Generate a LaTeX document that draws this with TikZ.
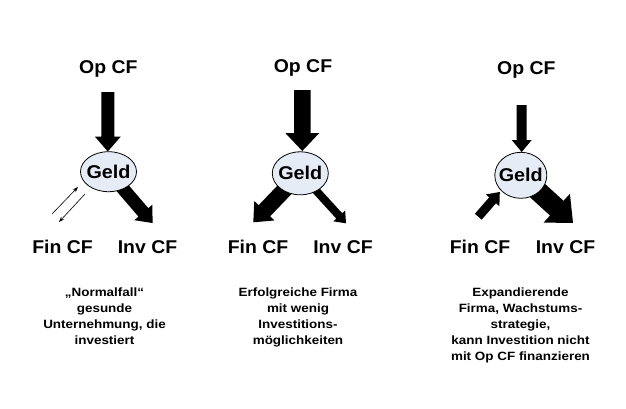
\documentclass[tikz,border=0pt]{standalone}
\usepackage{fontspec}
\setmainfont{Liberation Sans}
\usetikzlibrary{calc,shapes.geometric,backgrounds,arrows.meta}
\definecolor{geldfill}{HTML}{E6ECF6}
% #1 tail, #2 tip, #3 shaft half-width, #4 head half-width, #5 head length
\newcommand\blockarrow[5]{%
  \path ($(#2)!#5!(#1)$) coordinate (bh);
  \fill[black] ($(#1)!#3!90:(#2)$) -- ($(bh)!#3!-90:(#1)$) -- ($(bh)!#4!-90:(#1)$)
    -- (#2) -- ($(bh)!#4!90:(#1)$) -- ($(bh)!#3!90:(#1)$) -- ($(#1)!#3!-90:(#2)$) -- cycle;
}
\newcommand\geldtext{\scalebox{1.07}[1]{Geld}}
\begin{document}
\begin{tikzpicture}[x=1pt,y=-1pt,
  lbl/.style={font=\fontsize{18.5}{20}\selectfont\bfseries, inner sep=0pt, anchor=base, xscale=1.05},
  geld/.style={ellipse, draw=black, line width=0.8pt, fill=geldfill, inner xsep=-4pt, inner ysep=0pt,
    font=\fontsize{18.5}{20}\selectfont\bfseries},
  desc/.style={font=\fontsize{12}{16.2}\selectfont\bfseries, align=center, inner sep=0pt, xscale=1.12},
  thinarr/.style={-{Stealth[length=5.5pt,width=4pt]}, line width=0.6pt}]
\useasboundingbox (0,0) rectangle (626,408);

% ---------- Panel 1 ----------
\node[lbl] (op1) at (108.3,73.3) {Op CF};
\node[lbl] (fin1) at (62.5,253.3) {Fin CF};
\node[lbl] (inv1) at (147.5,253.3) {Inv CF};
\node[geld, minimum width=56pt, minimum height=40pt] (g1) at (108.5,171.7) {\geldtext};
\coordinate (op1t) at (107.8,92);
\coordinate (op1h) at (107.8,151.5);
\coordinate (inv1h) at (152.5,223);
\coordinate (ta1) at (52,214);
\coordinate (ta2) at (78,187);
\coordinate (tb1) at (85,194);
\coordinate (tb2) at (59,222);
\begin{pgfonlayer}{background}
  \blockarrow{op1t}{op1h}{6.5pt}{13pt}{15pt}
  \blockarrow{g1.center}{inv1h}{6.5pt}{12pt}{14pt}
\end{pgfonlayer}
\draw[thinarr] (ta1) -- (ta2);
\draw[thinarr] (tb1) -- (tb2);
\node[desc] (d1) at (104.5,316.3) {„Normalfall“\\gesunde\\Unternehmung, die\\investiert};

% ---------- Panel 2 ----------
\node[lbl] (op2) at (303,72.7) {Op CF};
\node[lbl] (fin2) at (258,253.3) {Fin CF};
\node[lbl] (inv2) at (343,253.3) {Inv CF};
\node[geld, minimum width=56pt, minimum height=43pt] (g2) at (300.3,173.3) {\geldtext};
\coordinate (op2t) at (302.3,90);
\coordinate (op2h) at (302.3,151);
\coordinate (fin2h) at (253.3,222.3);
\coordinate (inv2h) at (346,223.3);
\begin{pgfonlayer}{background}
  \blockarrow{op2t}{op2h}{8.3pt}{17pt}{18pt}
  \blockarrow{g2.center}{fin2h}{8pt}{14pt}{16pt}
  \blockarrow{g2.center}{inv2h}{4pt}{8pt}{10pt}
\end{pgfonlayer}
\node[desc] (d2) at (298,317.5) {Erfolgreiche Firma\\mit wenig\\Investitions-\\möglichkeiten};

% ---------- Panel 3 ----------
\node[lbl] (op3) at (526.3,74.3) {Op CF};
\node[lbl] (fin3) at (480,253.3) {Fin CF};
\node[lbl] (inv3) at (565.5,253.3) {Inv CF};
\node[geld, minimum width=52pt, minimum height=46pt] (g3) at (520.8,175.3) {\geldtext};
\coordinate (op3t) at (521.7,105);
\coordinate (op3h) at (521.7,152);
\coordinate (fin3t) at (478.3,216.7);
\coordinate (fin3h) at (499.8,192);
\coordinate (inv3h) at (573,223);
\begin{pgfonlayer}{background}
  \blockarrow{op3t}{op3h}{5pt}{10pt}{12pt}
  \blockarrow{g3.center}{inv3h}{10pt}{19.5pt}{22pt}
\end{pgfonlayer}
\blockarrow{fin3t}{fin3h}{4.5pt}{9pt}{11pt}
\node[desc] (d3) at (520.5,325.3) {Expandierende\\Firma, Wachstums-\\strategie,\\kann Investition nicht\\mit Op CF finanzieren};
\end{tikzpicture}
\end{document}
